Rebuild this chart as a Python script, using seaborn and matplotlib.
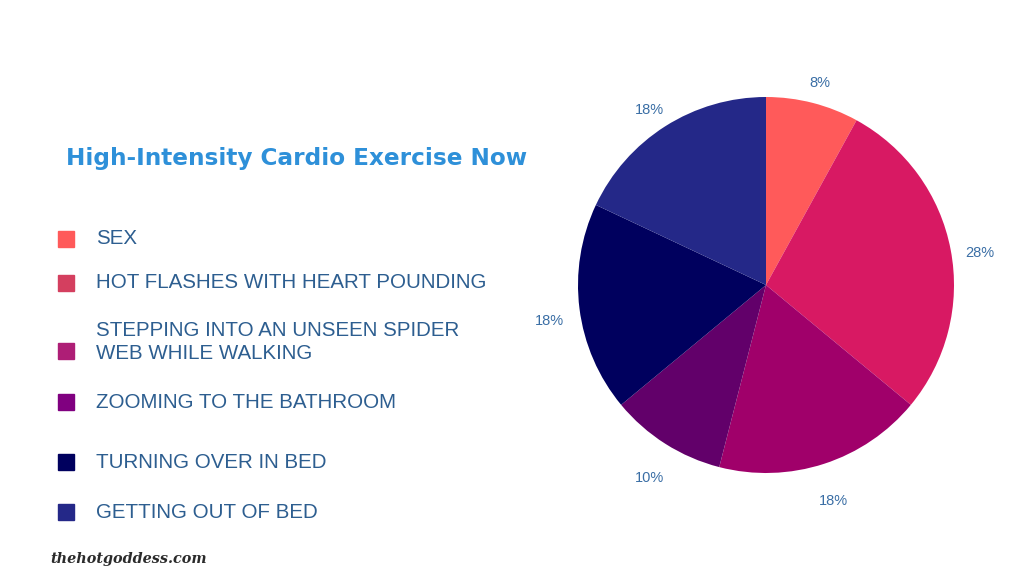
import matplotlib.pyplot as plt
import matplotlib.transforms as mtransforms
import seaborn as sns
from matplotlib.patches import Rectangle

# data
categories = [
    "SEX",
    "HOT FLASHES WITH HEART POUNDING",
    "STEPPING INTO AN UNSEEN SPIDER\nWEB WHILE WALKING",
    "ZOOMING TO THE BATHROOM",
    "TURNING OVER IN BED",
    "GETTING OUT OF BED",
]
shares = [8, 28, 18, 10, 18, 18]
slice_colors = ["#FF5A5A", "#D81963", "#A0006A", "#62006A", "#00005E", "#242888"]
legend_colors = ["#FF5A5A", "#D43F5F", "#AE1E76", "#800080", "#00005E", "#242888"]
legend_y = [239, 283, 342, 402, 462, 512]  # pixel rows of legend entries

title = "High-Intensity Cardio Exercise Now"
text_blue = "#2D5E90"

sns.set_theme(style="white")
plt.rcParams["font.family"] = ["Liberation Sans", "DejaVu Sans"]

W, H = 1024, 576
fig = plt.figure(figsize=(W / 100, H / 100), dpi=100)
fig.patch.set_facecolor("white")

# pie: centre (766, 285), radius ~188 px
r = 188
cx, cy = 766, 285
ax = fig.add_axes([(cx - r) / W, 1 - (cy + r) / H, 2 * r / W, 2 * r / H])
wedges, texts = ax.pie(
    shares,
    colors=slice_colors,
    startangle=90,
    counterclock=False,
    labels=[f"{s}%" for s in shares],
    labeldistance=1.16,
    radius=1.0,
    wedgeprops={"linewidth": 0},
    textprops={"color": "#3A6EA5", "fontsize": 10.5},
)
# labels sit a little below their wedge direction in the original
shift = mtransforms.ScaledTranslation(0, -9 / 100, fig.dpi_scale_trans)
for t in texts:
    t.set_ha("center")
    t.set_va("center")
    t.set_transform(t.get_transform() + shift)
ax.set_xlim(-1, 1)
ax.set_ylim(-1, 1)
ax.set_aspect("equal")
ax.axis("off")

fig.text(66 / W, 1 - 158 / H, title, color="#2E90D9", fontsize=16.7,
         fontweight="bold", ha="left", va="center",
         family=["DejaVu Sans"])

for label, col, y in zip(categories, legend_colors, legend_y):
    sq_y = y + 9 if "\n" in label else y
    fig.patches.append(Rectangle((58 / W, 1 - (sq_y + 8) / H), 16 / W, 16 / H,
                                 transform=fig.transFigure, color=col))
    fig.text(96 / W, 1 - y / H, label, color=text_blue, fontsize=14.8,
             ha="left", va="center", linespacing=1.3)

fig.text(50 / W, 1 - 559 / H, "thehotgoddess.com", color="#2B2B2B",
         fontsize=10.4, fontweight="bold", style="italic",
         family=["DejaVu Serif"], ha="left", va="center")

fig.savefig("out.png", dpi=100, facecolor="white")
